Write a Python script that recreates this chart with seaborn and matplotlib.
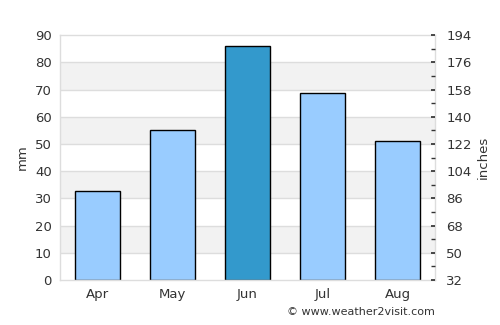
import matplotlib
matplotlib.use("Agg")
import matplotlib.pyplot as plt
import seaborn as sns
import pandas as pd
import numpy as np

months = ["Apr", "May", "Jun", "Jul", "Aug"]
rain_mm = [32.6, 55.0, 86.0, 68.6, 51.0]
bar_colors = ["#99ccff", "#99ccff", "#3399cc", "#99ccff", "#99ccff"]
left_ticks = [0, 10, 20, 30, 40, 50, 60, 70, 80, 90]
right_labels = ["32", "50", "68", "86", "104", "122", "140", "158", "176", "194"]

sns.set_theme(style="white")
plt.rcParams['font.family'] = ['DejaVu Sans']

df = pd.DataFrame({"month": months, "mm": rain_mm})

fig = plt.figure(figsize=(5, 3.25), dpi=100)
ax = fig.add_axes([0.12, 0.1385, 0.75, 0.7535])

for lo in [10, 30, 50, 70]:
    ax.axhspan(lo, lo + 10, color="#f2f2f2", zorder=0, lw=0)
for t in left_ticks[1:-1]:
    ax.axhline(t, color="#dddddd", lw=1, zorder=0.5)

sns.barplot(data=df, x="month", y="mm", hue="month", palette=bar_colors,
            legend=False, width=0.6, edgecolor="black", linewidth=1,
            ax=ax, zorder=2, saturation=1)

ax.set_xlim(-0.5, 4.5)
ax.set_ylim(0, 90)
ax.set_yticks(left_ticks)
ax.set_xlabel("")
ax.set_ylabel("mm", color="#333333", fontsize=9.5)
ax.tick_params(axis="both", colors="#333333", labelsize=9.5, length=0, pad=6)
for s in ax.spines.values():
    s.set_color("#dddddd")
    s.set_linewidth(1)

ax2 = ax.twinx()
ax2.set_ylim(0, 90)
ax2.set_yticks(left_ticks)
ax2.set_yticklabels(right_labels)
ax2.set_yticks(np.arange(5, 90, 10), minor=True)
ax2.tick_params(axis="y", which="both", direction="in", length=3, color="#333333",
                labelcolor="#333333", labelsize=9.5, pad=8)
ax2.set_ylabel("inches", color="#333333", fontsize=9.5)
for s in ax2.spines.values():
    s.set_visible(False)

fig.text(0.87, 0.025, "© www.weather2visit.com", ha="right", va="bottom",
         fontsize=8, color="#333333")

fig.savefig("out.png", dpi=100)
